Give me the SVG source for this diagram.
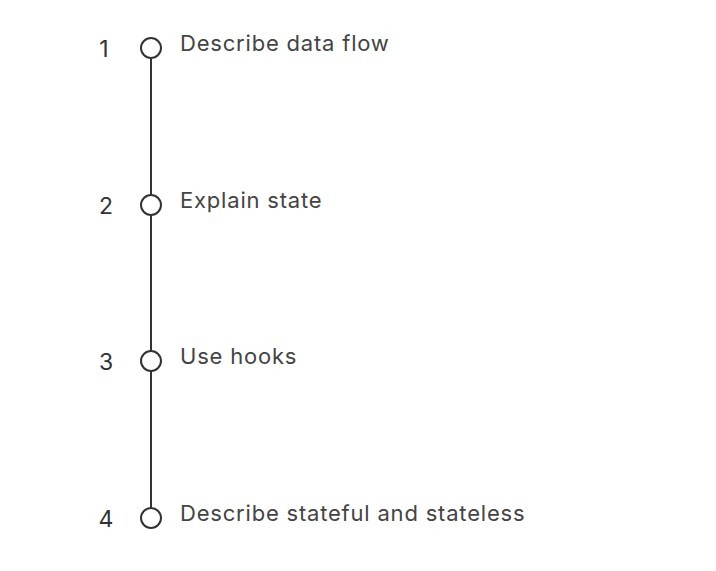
<svg xmlns="http://www.w3.org/2000/svg" width="716" height="571" viewBox="0 0 716 571">
<style>
.num{font-family:Inter,"Liberation Sans",sans-serif;font-size:23px;fill:#333;text-anchor:middle}
.lbl{font-family:Inter,"Liberation Sans",sans-serif;font-size:22px;letter-spacing:0.8px;fill:#444}
.dot{fill:#fff;stroke:#333;stroke-width:2}
.ln{stroke:#333;stroke-width:2;fill:none}
</style>
<rect width="716" height="571" fill="#fff"/>
<g id="connectors">
<line class="ln" x1="151" y1="58" x2="151" y2="195"/>
<line class="ln" x1="151" y1="215" x2="151" y2="351"/>
<line class="ln" x1="151" y1="371" x2="151" y2="508"/>
</g>
<g id="step1"><text class="num" x="104" y="57">1</text><circle class="dot" cx="151" cy="48" r="10"/><text class="lbl" x="180" y="51">Describe data flow</text></g>
<g id="step2"><text class="num" x="106" y="214">2</text><circle class="dot" cx="151" cy="205" r="10"/><text class="lbl" x="180" y="208">Explain state</text></g>
<g id="step3"><text class="num" x="106" y="370">3</text><circle class="dot" cx="151" cy="361" r="10"/><text class="lbl" x="180" y="364">Use hooks</text></g>
<g id="step4"><text class="num" x="106" y="527">4</text><circle class="dot" cx="151" cy="518" r="10"/><text class="lbl" x="180" y="521">Describe stateful and stateless</text></g>
</svg>
